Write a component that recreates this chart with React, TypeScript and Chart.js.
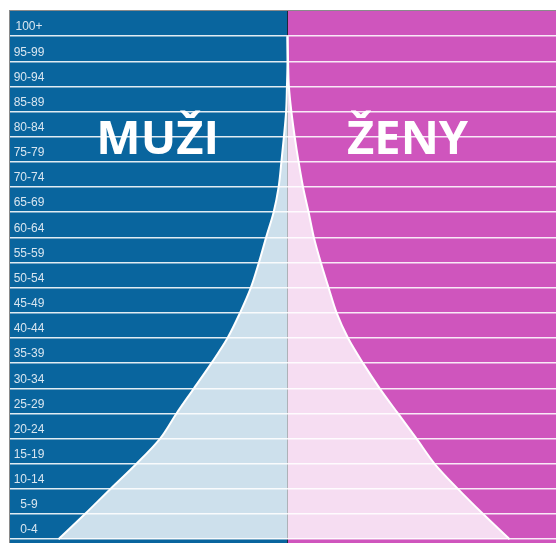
import React, { useEffect, useRef } from "react";
import { Chart, registerables } from "chart.js";

Chart.register(...registerables);

const ageGroups = ["0-4", "5-9", "10-14", "15-19", "20-24", "25-29", "30-34", "35-39", "40-44", "45-49", "50-54", "55-59", "60-64", "65-69", "70-74", "75-79", "80-84", "85-89", "90-94", "95-99", "100+"];
const ageStarts = [0, 5, 10, 15, 20, 25, 30, 35, 40, 45, 50, 55, 60, 65, 70, 75, 80, 85, 90, 95, 100];
const maleValues = [8.25, 7.3, 6.38, 5.44, 4.59, 4.0, 3.37, 2.74, 2.16, 1.71, 1.32, 1.03, 0.77, 0.5, 0.32, 0.22, 0.13, 0.05, 0.02, 0, 0];
const femaleValues = [8.0, 7.05, 6.14, 5.3, 4.65, 3.98, 3.32, 2.72, 2.18, 1.77, 1.48, 1.2, 0.95, 0.76, 0.56, 0.4, 0.26, 0.14, 0.05, 0.02, 0];
const maleTitle = "MUŽI";
const femaleTitle = "ŽENY";

const BLUE = "#09659E";
const PINK = "#CF55BD";

export default function App() {
  const ref = useRef<HTMLCanvasElement | null>(null);

  useEffect(() => {
    if (!ref.current) return;
    const bgPlugin = {
      id: "halves",
      beforeDraw(chart: any) {
        const { ctx, chartArea, scales } = chart;
        const x0 = scales.x.getPixelForValue(0);
        ctx.save();
        ctx.fillStyle = BLUE;
        ctx.fillRect(chartArea.left, chartArea.top, x0 - chartArea.left, chartArea.bottom - chartArea.top);
        ctx.fillStyle = PINK;
        ctx.fillRect(x0, chartArea.top, chartArea.right - x0, chartArea.bottom - chartArea.top);
        ctx.restore();
      },
      afterDraw(chart: any) {
        const { ctx, chartArea, scales } = chart;
        ctx.save();
        ctx.fillStyle = "#d9e6f0";
        ctx.font = "12px 'Liberation Sans', Arial, sans-serif";
        ctx.textAlign = "center";
        ctx.textBaseline = "middle";
        ageGroups.forEach((g, i) => {
          const y = scales.y.getPixelForValue(ageStarts[i] + 2.5) + 3.5;
          ctx.fillText(g, chartArea.left + 19, y);
        });
        ctx.fillStyle = "#ffffff";
        ctx.font = "bold 47px 'Open Sans', sans-serif";
        ctx.textBaseline = "alphabetic";
        const ty = scales.y.getPixelForValue(80) + 17;
        ctx.fillText(maleTitle, scales.x.getPixelForValue(-4.68), ty);
        ctx.fillText(femaleTitle, scales.x.getPixelForValue(4.33), ty);
        ctx.strokeStyle = "#8a8a8a";
        ctx.lineWidth = 1;
        ctx.strokeRect(chartArea.left - 0.5, chartArea.top - 0.5, chartArea.right - chartArea.left + 1, chartArea.bottom - chartArea.top + 1);
        ctx.restore();
      },
    };

    const chart = new Chart(ref.current, {
      type: "line",
      data: {
        datasets: [
          {
            label: maleTitle,
            data: ageStarts.map((a, i) => ({ x: -maleValues[i], y: a })),
            borderColor: "#ffffff",
            borderWidth: 2,
            backgroundColor: "rgba(255,255,255,0.8)",
            fill: "origin",
            pointRadius: 0,
            cubicInterpolationMode: "monotone",
          },
          {
            label: femaleTitle,
            data: ageStarts.map((a, i) => ({ x: femaleValues[i], y: a })),
            borderColor: "#ffffff",
            borderWidth: 2,
            backgroundColor: "rgba(255,255,255,0.8)",
            fill: "origin",
            pointRadius: 0,
            cubicInterpolationMode: "monotone",
          },
        ],
      },
      options: {
        animation: false,
        responsive: false,
        indexAxis: "y",
        layout: { padding: { left: 10, top: 11, right: 0, bottom: 0 } },
        plugins: { legend: { display: false }, tooltip: { enabled: false } },
        scales: {
          x: {
            type: "linear",
            min: -10,
            max: 10,
            ticks: { display: false, stepSize: 10 },
            border: { display: false },
            grid: {
              drawTicks: false,
              color: (c: any) => (c.tick && c.tick.value === 0 ? "#1e2a3a" : "rgba(0,0,0,0)"),
              lineWidth: 1,
            },
          },
          y: {
            type: "linear",
            min: -0.75,
            max: 105,
            afterBuildTicks: (axis: any) => {
              axis.ticks = ageStarts.map((v) => ({ value: v }));
            },
            ticks: { display: false },
            border: { display: false },
            grid: { drawTicks: false, color: "rgba(255,255,255,0.88)", lineWidth: 1.5 },
          },
        },
      },
      plugins: [bgPlugin],
    } as any);
    return () => chart.destroy();
  }, []);

  return (
    <div style={{ position: "fixed", left: 0, top: 0, width: 556, height: 543, overflow: "hidden", background: "#fff" }}>
      <canvas ref={ref} width={565} height={543} style={{ display: "block", width: 565, height: 543 }} />
    </div>
  );
}
